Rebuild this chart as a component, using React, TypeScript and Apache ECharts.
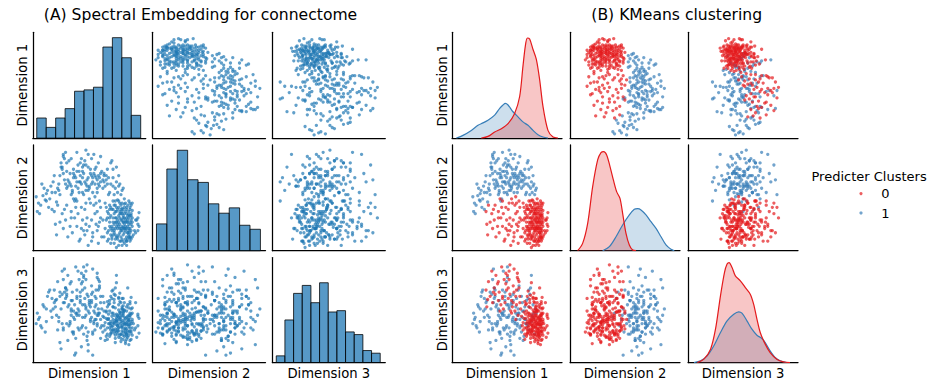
import React, { useEffect, useRef } from "react";
import * as echarts from "echarts";

const dimensionNames = ["Dimension 1", "Dimension 2", "Dimension 3"];
const clusterNames = ["0", "1"];
const titleA = "(A) Spectral Embedding for connectome";
const titleB = "(B) KMeans clustering";
const legendTitle = "Predicter Clusters";

// Histogram counts (diagonal of panel A), bins spanning the data range
const histDim1Counts = [15, 8, 15, 22, 35, 36, 38, 68, 75, 60, 17];
const histDim2Counts = [20, 61, 75, 53, 51, 35, 28, 32, 19, 16];
const histDim3Counts = [5, 32, 52, 58, 45, 60, 38, 39, 23, 21, 9, 7];
const histDataRange = [3.5, 95.5];

// KDE curves (diagonal of panel B): [value, density]
const kdeDim1Cluster0 = [[13.3, 0], [21.4, 0.016], [29.5, 0.058], [37.6, 0.089], [45.7, 0.137], [53.7, 0.233], [59.8, 0.393], [63.8, 0.68], [66.7, 0.872], [69.1, 0.946], [71.9, 0.936], [75.9, 0.84], [80, 0.744], [84, 0.553], [88.1, 0.297], [94.1, 0.073], [100.2, 0.01], [106.2, 0]];
const kdeDim1Cluster1 = [[-16.9, 0], [-8.9, 0.026], [1.2, 0.073], [9.3, 0.121], [15.4, 0.144], [21.4, 0.169], [29.5, 0.217], [35.6, 0.281], [39.6, 0.313], [42.4, 0.329], [45.7, 0.313], [51.7, 0.249], [57.8, 0.201], [63.8, 0.153], [69.9, 0.121], [76, 0.073], [82, 0.032], [88.1, 0.01], [94.1, 0]];
const kdeDim2Cluster0 = [[-6, 0], [-0.2, 0.069], [5.7, 0.259], [11.5, 0.606], [17.3, 0.858], [21.2, 0.927], [24.3, 0.937], [27.8, 0.905], [31.7, 0.795], [35.6, 0.669], [39.4, 0.558], [43.3, 0.495], [46.4, 0.353], [50.3, 0.164], [54.2, 0.054], [58.1, 0.006], [62, 0]];
const kdeDim2Cluster1 = [[23.1, 0], [30.9, 0.038], [38.7, 0.132], [46.4, 0.243], [54.2, 0.338], [60, 0.391], [63.9, 0.397], [67.8, 0.385], [73.6, 0.338], [79.4, 0.274], [85.3, 0.211], [91.1, 0.132], [96.9, 0.054], [102.7, 0.013], [106.6, 0]];
const kdeDim3Cluster0 = [[-12.8, 0], [-4.2, 0.032], [4.5, 0.127], [10.9, 0.317], [17.4, 0.635], [22.6, 0.857], [26, 0.937], [28.6, 0.952], [32.5, 0.905], [36.8, 0.825], [43.3, 0.778], [49.8, 0.714], [56.2, 0.651], [60.6, 0.556], [64.9, 0.413], [69.2, 0.286], [75.7, 0.175], [82.1, 0.095], [90.8, 0.032], [99.4, 0.006], [108, 0]];
const kdeDim3Cluster1 = [[-17.1, 0], [-8.5, 0.016], [0.1, 0.063], [8.8, 0.159], [17.4, 0.286], [26, 0.397], [34.7, 0.46], [41.1, 0.483], [45.4, 0.47], [51.9, 0.397], [58.4, 0.317], [64.9, 0.26], [71.3, 0.229], [75.7, 0.19], [82.1, 0.111], [88.6, 0.048], [95.1, 0.016], [103.7, 0]];

// Embedded points [dim1, dim2, dim3], cluster 0
const cluster0Points = [
  [91, 17, 33], [84, 29, 41], [78, 9, 27], [88, 38, 52], [73, 21, 19], [81, 44, 36], [86, 13, 58], [76, 33, 24], [93, 25, 44], [69, 15, 31],
  [83, 5, 38], [79, 40, 61], [71, 27, 47], [87, 19, 22], [75, 48, 35], [82, 23, 29], [85, 34, 40], [67, 11, 55], [85, 31, 17], [74, 37, 43],
  [80, 15, 50], [82, 27, 31], [72, 7, 37], [77, 25, 66], [94, 36, 28], [65, 29, 42], [83, 41, 25], [70, 19, 34], [86, 9, 45], [78, 35, 20],
  [86, 12, 36], [68, 43, 49], [81, 21, 57], [75, 13, 30], [88, 45, 39], [73, 31, 23], [84, 17, 71], [79, 5, 33], [66, 37, 27], [87, 29, 46],
  [71, 47, 41], [82, 11, 18], [80, 22, 54], [76, 41, 37], [85, 25, 26], [69, 33, 63], [80, 27, 45], [74, 3, 29], [93, 31, 35], [77, 17, 48],
  [64, 21, 38], [86, 39, 21], [72, 35, 57], [83, 13, 43], [83, 9, 27], [78, 29, 39], [81, 49, 32], [70, 23, 68], [87, 35, 30], [75, 21, 44],
  [81, 41, 49], [68, 27, 25], [84, 23, 36], [79, 45, 53], [73, 11, 40], [85, 19, 34], [76, 5, 61], [82, 37, 28], [88, 13, 47], [71, 39, 31],
  [80, 33, 22], [67, 19, 46], [84, 17, 39], [74, 27, 76], [86, 45, 33], [77, 37, 41], [83, 27, 53], [69, 7, 28], [92, 29, 24], [78, 21, 57],
  [63, 13, 35], [81, 31, 43], [75, 39, 27], [87, 11, 62], [72, 25, 38], [84, 43, 30], [79, 19, 45], [66, 31, 22], [79, 37, 34], [76, 15, 50],
  [94, 23, 42], [70, 39, 29], [82, 29, 37], [73, 47, 64], [85, 37, 45], [68, 23, 33], [80, 9, 26], [77, 31, 58], [86, 21, 30], [74, 13, 46],
  [88, 31, 26], [71, 15, 53], [83, 35, 36], [65, 41, 48], [78, 43, 23], [80, 27, 61], [75, 29, 32], [81, 7, 40], [87, 43, 37], [72, 17, 28],
  [84, 11, 55], [79, 29, 35], [67, 35, 42], [93, 19, 46], [76, 23, 30], [85, 47, 52], [70, 11, 44], [82, 19, 33], [74, 41, 36], [82, 21, 20],
  [77, 9, 42], [86, 27, 39], [64, 45, 31], [80, 39, 48], [73, 37, 26], [91, 29, 57], [78, 13, 37], [84, 33, 44], [69, 21, 39], [87, 25, 51],
  [62, 29, 44], [75, 25, 40], [83, 21, 27], [71, 31, 35], [79, 35, 30], [85, 15, 41], [76, 47, 62], [81, 25, 50], [68, 39, 37], [88, 23, 33],
  [73, 27, 52], [80, 21, 38], [77, 45, 34], [66, 17, 58], [85, 13, 29], [74, 31, 41], [83, 9, 32], [86, 33, 47], [72, 43, 45], [78, 19, 43],
  [89, 15, 37], [76, 27, 33], [83, 39, 22], [70, 13, 47], [87, 33, 28], [79, 11, 51], [73, 43, 30], [81, 17, 25], [68, 31, 56], [85, 21, 36],
  [77, 35, 45], [90, 19, 31], [74, 23, 39], [82, 45, 42], [66, 9, 33], [80, 31, 29], [72, 19, 60], [86, 17, 43], [78, 39, 48], [84, 27, 24],
  [71, 21, 38], [88, 27, 41], [75, 11, 35], [83, 31, 49], [69, 41, 27], [79, 23, 40], [86, 41, 56], [73, 15, 32], [81, 35, 37], [77, 21, 26],
  [61, 13, 51], [59, 27, 71], [60, 41, 57], [57, 19, 85], [58, 7, 45], [55, 35, 63], [59, 47, 77], [53, 17, 89], [56, 25, 55], [54, 43, 49],
  [52, 9, 73], [57, 37, 81], [50, 23, 59], [55, 51, 41], [48, 31, 93], [53, 13, 67], [51, 45, 53], [47, 25, 79], [49, 5, 49], [46, 39, 61],
  [45, 19, 83], [50, 49, 47], [44, 29, 69], [42, 11, 57], [47, 45, 87], [40, 35, 51], [43, 21, 75], [39, 47, 63], [41, 9, 79], [37, 31, 55],
  [38, 41, 91], [35, 17, 67], [36, 49, 49], [33, 23, 75], [34, 37, 59], [31, 13, 83], [30, 43, 65], [29, 29, 71], [27, 21, 57], [26, 35, 87],
  [24, 27, 63], [22, 43, 77], [20, 25, 53], [19, 37, 69], [21, 15, 60],
  [60, 31, 63], [56, 45, 69], [52, 29, 57], [46, 15, 71], [43, 41, 85], [39, 23, 61], [34, 31, 77], [28, 39, 67], [58, 23, 79], [48, 19, 65],
];

// Embedded points [dim1, dim2, dim3], cluster 1
const cluster1Points = [
  [5, 45, 41], [9, 52, 55], [4, 37, 47], [13, 57, 63], [7, 43, 35], [16, 61, 49], [11, 48, 29], [20, 55, 59], [6, 35, 43], [18, 65, 51],
  [14, 41, 67], [3, 51, 37], [10, 59, 53], [21, 46, 45], [8, 63, 33], [17, 39, 61], [12, 54, 39], [19, 71, 57], [15, 49, 69], [22, 59, 31],
  [25, 79, 13], [33, 63, 39], [28, 87, 57], [37, 71, 41], [24, 53, 67], [31, 67, 21], [39, 75, 47], [27, 91, 79], [35, 57, 29], [30, 83, 63],
  [38, 69, 9], [26, 77, 37], [34, 61, 51], [29, 93, 71], [36, 73, 27], [23, 57, 43], [40, 81, 87], [32, 65, 35], [38, 49, 47], [27, 89, 31],
  [35, 55, 59], [24, 71, 19], [31, 61, 53], [39, 93, 45], [28, 67, 89], [33, 73, 37], [25, 83, 51], [36, 69, 29], [30, 75, 69], [37, 47, 7],
  [29, 63, 61], [34, 53, 45], [26, 79, 65], [40, 59, 33], [32, 85, 55], [38, 61, 23],
  [43, 63, 15], [51, 77, 41], [46, 85, 55], [57, 55, 35], [42, 71, 67], [54, 91, 39], [48, 67, 25], [59, 61, 47], [45, 73, 81], [52, 87, 43],
  [41, 65, 31], [56, 79, 61], [49, 57, 11], [55, 71, 47], [44, 75, 35], [58, 83, 69], [47, 63, 53], [53, 69, 29], [60, 89, 41], [50, 59, 57],
  [42, 83, 63], [57, 67, 45], [45, 53, 91], [51, 73, 39], [48, 61, 21], [55, 77, 53], [43, 87, 33], [59, 69, 73], [46, 65, 43], [53, 55, 27],
  [41, 75, 49], [49, 91, 17], [56, 69, 41], [52, 63, 65], [47, 81, 33], [58, 71, 47], [44, 55, 77], [54, 73, 37], [50, 61, 55], [60, 65, 23],
  [42, 65, 59], [47, 95, 51], [57, 59, 37], [53, 65, 7], [49, 79, 29], [44, 69, 43],
  [63, 71, 43], [71, 61, 31], [66, 77, 53], [75, 55, 45], [62, 67, 63], [69, 83, 37], [78, 53, 27], [65, 71, 49], [73, 59, 71], [61, 75, 35],
  [77, 63, 47], [68, 55, 59], [74, 79, 39], [64, 61, 21], [79, 57, 51], [67, 69, 37], [72, 53, 65], [76, 61, 43], [62, 59, 29], [70, 85, 61],
  [65, 67, 25], [80, 59, 47], [71, 77, 69], [67, 53, 41], [74, 65, 83], [63, 73, 49], [69, 63, 35], [76, 71, 55],
  [36, 77, 43], [45, 81, 27], [52, 71, 59], [30, 59, 37], [58, 63, 51], [41, 55, 45], [27, 73, 33], [63, 65, 57], [49, 69, 63], [34, 87, 49],
  [55, 63, 31], [12, 47, 51], [44, 79, 55], [66, 63, 41], [39, 65, 69], [23, 63, 39], [60, 73, 33], [47, 57, 45], [71, 69, 53], [17, 55, 43],
];

const histCounts = [histDim1Counts, histDim2Counts, histDim3Counts];
const kdeCurves = [
  [kdeDim1Cluster0, kdeDim1Cluster1],
  [kdeDim2Cluster0, kdeDim2Cluster1],
  [kdeDim3Cluster0, kdeDim3Cluster1],
];

// Layout
const FONT = "DejaVu Sans";
const LEFT_COLS = [32.8, 152.5, 272.3];
const LEFT_W = 113;
const RIGHT_COLS = [452, 570, 688];
const RIGHT_W = 110;
const ROWS = [32.3, 144.9, 257.5];
const ROW_H = 105.8;
const LEFT_RANGE = [0, 100];
const RIGHT_X_RANGES = [[-22.2, 111.1], [-14.9, 113.2], [-24.9, 118.4]];
const HIST_Y_MAX = 79;
const KDE_Y_MAX = 1;
const C0 = "#1f77b4";
const RED = "#e41a1c";
const BLUE = "#377eb8";
const clusterColors = [RED, BLUE];

function buildOption() {
  const grid: any[] = [];
  const xAxis: any[] = [];
  const yAxis: any[] = [];
  const series: any[] = [];
  const nameStyle = { fontFamily: FONT, fontSize: 13.2, color: "#000" };
  const line = { show: true, onZero: false, lineStyle: { color: "#000", width: 1.25 } };

  const addPanel = (left: number, top: number, w: number, xr: number[], yr: number[], xName: string, yName: string) => {
    const idx = grid.length;
    grid.push({ left, top, width: w, height: ROW_H });
    xAxis.push({
      type: "value", gridIndex: idx, min: xr[0], max: xr[1],
      axisLine: line, axisTick: { show: false }, axisLabel: { show: false }, splitLine: { show: false },
      name: xName, nameLocation: "middle", nameGap: 4.5, nameTextStyle: { ...nameStyle, verticalAlign: "top" },
    });
    yAxis.push({
      type: "value", gridIndex: idx, min: yr[0], max: yr[1],
      axisLine: line, axisTick: { show: false }, axisLabel: { show: false }, splitLine: { show: false },
      name: yName, nameLocation: "middle", nameRotate: 90, nameGap: 3.5, nameTextStyle: nameStyle,
    });
    return idx;
  };

  const allPoints = [...cluster1Points, ...cluster0Points];

  for (let r = 0; r < 3; r++) {
    for (let c = 0; c < 3; c++) {
      const xName = r === 2 ? dimensionNames[c] : "";
      const yName = c === 0 ? dimensionNames[r] : "";
      // Panel A
      if (r === c) {
        const idx = addPanel(LEFT_COLS[c], ROWS[r], LEFT_W, LEFT_RANGE, [0, HIST_Y_MAX], xName, yName);
        const counts = histCounts[c];
        const bw = (histDataRange[1] - histDataRange[0]) / counts.length;
        series.push({
          type: "custom", xAxisIndex: idx, yAxisIndex: idx, silent: true,
          data: counts.map((n, i) => [histDataRange[0] + i * bw, histDataRange[0] + (i + 1) * bw, n]),
          encode: { x: [0, 1], y: 2 },
          renderItem: (_p: any, api: any) => {
            const p0 = api.coord([api.value(0), api.value(2)]);
            const p1 = api.coord([api.value(1), 0]);
            return {
              type: "rect",
              shape: { x: p0[0], y: p0[1], width: p1[0] - p0[0], height: p1[1] - p0[1] },
              style: { fill: "rgba(31,119,180,0.75)", stroke: "rgba(0,0,0,0.78)", lineWidth: 1 },
            };
          },
        });
      } else {
        const idx = addPanel(LEFT_COLS[c], ROWS[r], LEFT_W, LEFT_RANGE, LEFT_RANGE, xName, yName);
        series.push({
          type: "scatter", xAxisIndex: idx, yAxisIndex: idx, silent: true,
          data: allPoints.map((p) => [p[c], p[r]]),
          symbolSize: 3.3, itemStyle: { color: C0, opacity: 0.7 },
        });
      }
      // Panel B
      if (r === c) {
        const idx = addPanel(RIGHT_COLS[c], ROWS[r], RIGHT_W, RIGHT_X_RANGES[c], [0, KDE_Y_MAX], xName, yName);
        [1, 0].forEach((k) => {
          series.push({
            type: "line", name: clusterNames[k], xAxisIndex: idx, yAxisIndex: idx, silent: true,
            data: kdeCurves[c][k], smooth: 0.3, symbol: "none",
            lineStyle: { color: clusterColors[k], width: 1.2 },
            itemStyle: { color: clusterColors[k] },
            areaStyle: { color: clusterColors[k], opacity: 0.25 },
          });
        });
      } else {
        const idx = addPanel(RIGHT_COLS[c], ROWS[r], RIGHT_W, RIGHT_X_RANGES[c], LEFT_RANGE, xName, yName);
        [cluster1Points, cluster0Points].forEach((pts, j) => {
          const k = j === 0 ? 1 : 0;
          series.push({
            type: "scatter", name: clusterNames[k], xAxisIndex: idx, yAxisIndex: idx, silent: true,
            data: pts.map((p) => [p[c], p[r]]),
            symbolSize: 3.3, itemStyle: { color: clusterColors[k], opacity: 0.7 },
          });
        });
      }
    }
  }

  const graphic: any[] = [
    { type: "text", x: 200.5, y: 15, style: { text: titleA, font: `15.6px ${FONT}`, fill: "#000", textAlign: "center", textVerticalAlign: "middle" } },
    { type: "text", x: 676.7, y: 15, style: { text: titleB, font: `15.6px ${FONT}`, fill: "#000", textAlign: "center", textVerticalAlign: "middle" } },
    { type: "text", x: 811.5, y: 176, style: { text: legendTitle, font: `13px ${FONT}`, fill: "#000", textAlign: "left", textVerticalAlign: "middle" } },
  ];
  [0, 1].forEach((k) => {
    const y = 193.6 + k * 19.4;
    graphic.push({ type: "circle", shape: { cx: 861, cy: y, r: 1.6 }, style: { fill: clusterColors[k], opacity: 0.7 } });
    graphic.push({ type: "text", x: 885.5, y, style: { text: clusterNames[k], font: `13px ${FONT}`, fill: "#000", textAlign: "center", textVerticalAlign: "middle" } });
  });

  return { animation: false, grid, xAxis, yAxis, series, graphic };
}

export default function App() {
  const ref = useRef<HTMLDivElement>(null);
  useEffect(() => {
    document.body.style.margin = "0";
    const chart = echarts.init(ref.current!, undefined, { renderer: "svg" });
    chart.setOption(buildOption() as any);
    return () => chart.dispose();
  }, []);
  return <div ref={ref} style={{ width: 932, height: 381, position: "absolute", left: 0, top: 0, background: "#fff" }} />;
}
